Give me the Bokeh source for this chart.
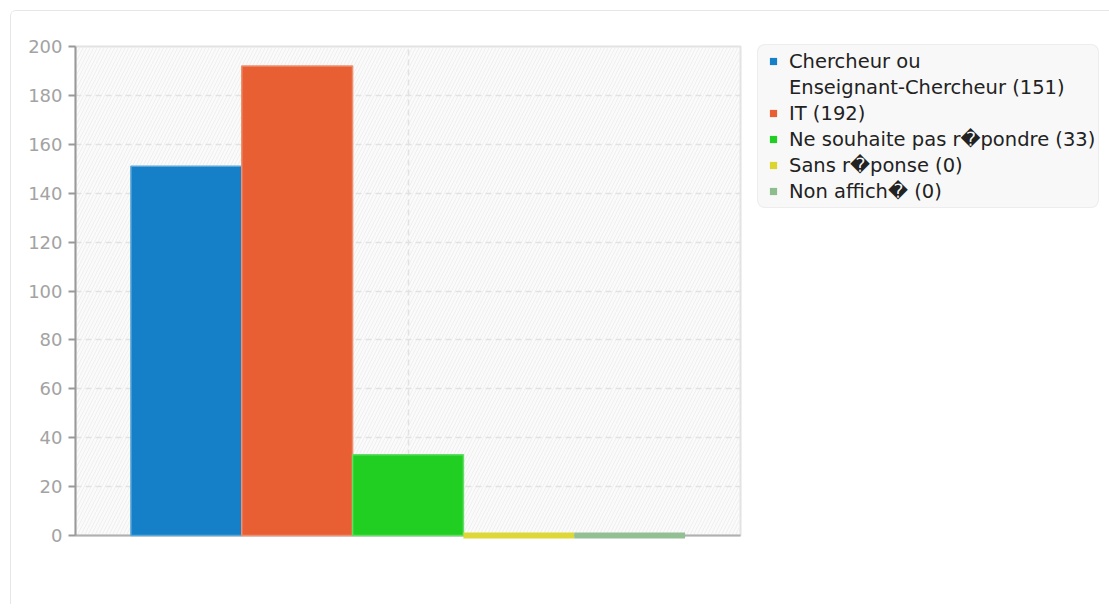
import textwrap
import numpy as np
from bokeh.plotting import figure
from bokeh.models import (ColumnDataSource, Range1d, SingleIntervalTicker, FixedTicker,
                          Legend, LegendItem, BoxAnnotation)
from bokeh.embed import file_html
from bokeh.resources import INLINE

# ---- data ----
categories = ["Chercheur ou Enseignant-Chercheur", "IT", "Ne souhaite pas r\ufffdpondre",
              "Sans r\ufffdponse", "Non affich\ufffd"]
values = [151, 192, 33, 0, 0]
colors = ["#1580c8", "#e85f33", "#21cf23", "#dcd52e", "#8dbd8d"]
y_ticks_interval = 20
y_max = 200


def tint(hexcol, f=0.3):
    h = hexcol.lstrip("#")
    rgb = [int(h[i:i + 2], 16) for i in (0, 2, 4)]
    rgb = [round(c + (255 - c) * f) for c in rgb]
    return "#%02x%02x%02x" % tuple(rgb)


n = len(categories)
xs = np.arange(n) - (n - 1) / 2.0
labels = [textwrap.fill(f"{c} ({v})", width=29, break_on_hyphens=False)
          for c, v in zip(categories, values)]
edge_colors = [tint(c, 0.3 if v > 0 else 0.05) for c, v in zip(colors, values)]
edge_widths = [1.5 if v > 0 else 6 for v in values]

src = ColumnDataSource(dict(x=xs, top=values, color=colors, edge=edge_colors,
                            lw=edge_widths))

OFF = 11  # container margin + border
FL, FT, FW, FH = 75 - OFF, 46 - OFF, 665, 489
W, H = 1100 - OFF, 604 - OFF

p = figure(output_backend="svg", toolbar_location=None,
           x_range=Range1d(-n / 2 - 0.5, n / 2 + 0.5), y_range=Range1d(0, y_max),
           frame_width=FW, frame_height=FH,
           min_border_left=FL, min_border_top=FT, min_border_right=W - FL - FW,
           min_border_bottom=H - FT - FH)
p.styles = {"margin-left": "10px", "margin-top": "10px",
            "border-left": "1px solid #e6e6e6", "border-top": "1px solid #e6e6e6",
            "border-top-left-radius": "6px"}

p.background_fill_color = "#fbfbfb"
p.border_fill_color = "white"
p.outline_line_color = "#e2e2e2"
p.outline_line_width = 2

# hatched background
p.add_layout(BoxAnnotation(level="image", fill_alpha=0, line_alpha=0,
                           hatch_pattern="/", hatch_color="#eeeeee",
                           hatch_scale=7, hatch_weight=1))

r = p.vbar(x="x", top="top", bottom=0, width=1, source=src,
           fill_color="color", line_color="edge", line_width="lw")
r.level = "annotation"

# axes
p.yaxis.ticker = SingleIntervalTicker(interval=y_ticks_interval)
p.yaxis.minor_tick_line_color = None
p.yaxis.major_tick_in = 0
p.yaxis.major_tick_out = 7
p.yaxis.major_tick_line_color = "#999999"
p.yaxis.major_tick_line_width = 2
p.yaxis.axis_line_color = "#999999"
p.yaxis.axis_line_width = 2
p.yaxis.major_label_text_font = "DejaVu Sans"
p.yaxis.major_label_text_font_size = "18px"
p.yaxis.major_label_text_color = "#a3a3a3"
p.yaxis.major_label_standoff = 6

p.xaxis.ticker = FixedTicker(ticks=[])
p.xaxis.major_tick_line_color = None
p.xaxis.minor_tick_line_color = None
p.xaxis.axis_line_color = "#b0b0b0"
p.xaxis.axis_line_width = 2

p.ygrid.grid_line_color = "#e2e2e2"
p.ygrid.grid_line_dash = "6 4"
p.ygrid.grid_line_width = 1.5
p.xgrid.ticker = FixedTicker(ticks=[0])
p.xgrid.grid_line_color = "#e2e2e2"
p.xgrid.grid_line_dash = "6 4"
p.xgrid.grid_line_width = 1.5

# legend: square swatches (zero-size proxy markers at each bar top),
# wrapped labels (continuation lines carry no swatch)
items = []
for i, (lab, col) in enumerate(zip(labels, colors)):
    sw = p.scatter(x=[xs[i]], y=[values[i]], marker="square", size=0,
                   fill_color=col, line_color=None)
    lines = lab.split("\n")
    items.append(LegendItem(label=lines[0], renderers=[sw]))
    for extra in lines[1:]:
        blank = p.scatter(x=[xs[i]], y=[values[i]], marker="square", size=0,
                          fill_alpha=0, line_alpha=0)
        items.append(LegendItem(label=extra, renderers=[blank]))

legend_kw = dict(items=items, location=(17, 327), margin=0, padding=3, spacing=0,
                 glyph_width=24, glyph_height=18, label_standoff=4,
                 label_height=26,
                 label_text_font="DejaVu Sans", label_text_font_size="19.5px",
                 label_text_color="#222222",
                 background_fill_color="#f8f8f8", background_fill_alpha=1,
                 border_line_color="#e2e2e2", border_line_width=1)
if "border_radius" in Legend.properties():
    legend_kw["border_radius"] = 8
legend = Legend(**legend_kw)
p.add_layout(legend, "right")

open("out.html", "w").write(file_html(p, INLINE))
